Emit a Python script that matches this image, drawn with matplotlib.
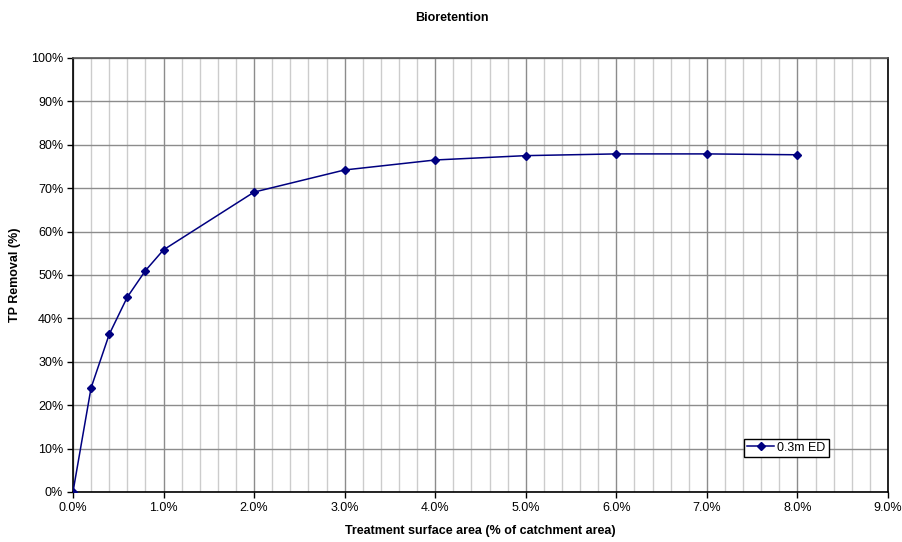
import matplotlib
matplotlib.use('Agg')
import matplotlib.pyplot as plt
from matplotlib.ticker import MultipleLocator, FuncFormatter

plt.rcParams['font.family'] = ['Liberation Sans', 'DejaVu Sans']

# treatment area (% of catchment) and TP removal (%)
area_pct = [0.0, 0.2, 0.4, 0.6, 0.8, 1.0, 2.0, 3.0, 4.0, 5.0, 6.0, 7.0, 8.0]
tp_removal = [0.0, 24.0, 36.3, 44.9, 51.0, 55.8, 69.1, 74.2, 76.5, 77.5, 77.9, 77.9, 77.7]
series_name = '0.3m ED'

fig = plt.figure(figsize=(9.03, 5.42), dpi=100)
ax = fig.add_axes([0.0808, 0.0923, 0.9026, 0.8007])

ax.plot(area_pct, tp_removal, '-D', color='#000080', linewidth=1.1,
        markersize=3.6, label=series_name, zorder=3)

ax.set_xlim(0, 9)
ax.set_ylim(0, 100)
ax.xaxis.set_major_locator(MultipleLocator(1.0))
ax.xaxis.set_minor_locator(MultipleLocator(0.2))
ax.yaxis.set_major_locator(MultipleLocator(10))
ax.xaxis.set_major_formatter(FuncFormatter(lambda v, p: f'{v:.1f}%'))
ax.yaxis.set_major_formatter(FuncFormatter(lambda v, p: f'{v:.0f}%'))

ax.grid(True, which='major', color='#8c8c8c', linewidth=1.0)
ax.grid(True, which='minor', axis='x', color='#cccccc', linewidth=1.0)
ax.set_axisbelow(True)

ax.tick_params(axis='both', which='major', direction='out', length=4,
               width=1, labelsize=9, colors='black', pad=3)
ax.tick_params(axis='x', which='minor', length=0)

for side in ['left', 'bottom', 'right']:
    ax.spines[side].set_color('black')
    ax.spines[side].set_linewidth(1.2)
ax.spines['top'].set_color('#555555')
ax.spines['top'].set_linewidth(1.2)

ax.set_xlabel('Treatment surface area (% of catchment area)', fontsize=9,
              fontweight='bold', labelpad=8)
ax.set_ylabel('TP Removal (%)', fontsize=9, fontweight='bold', labelpad=7)
fig.text(0.5, 0.966, 'Bioretention', ha='center', va='center',
         fontsize=9, fontweight='bold')

leg = ax.legend(loc='lower left', bbox_to_anchor=(0.823, 0.081), fontsize=9,
                frameon=True, fancybox=False, borderpad=0.25,
                handlelength=2.2, handletextpad=0.25, borderaxespad=0)
leg.get_frame().set_edgecolor('black')
leg.get_frame().set_linewidth(1.0)
leg.get_frame().set_alpha(1)

plt.savefig('out.png', dpi=100)
